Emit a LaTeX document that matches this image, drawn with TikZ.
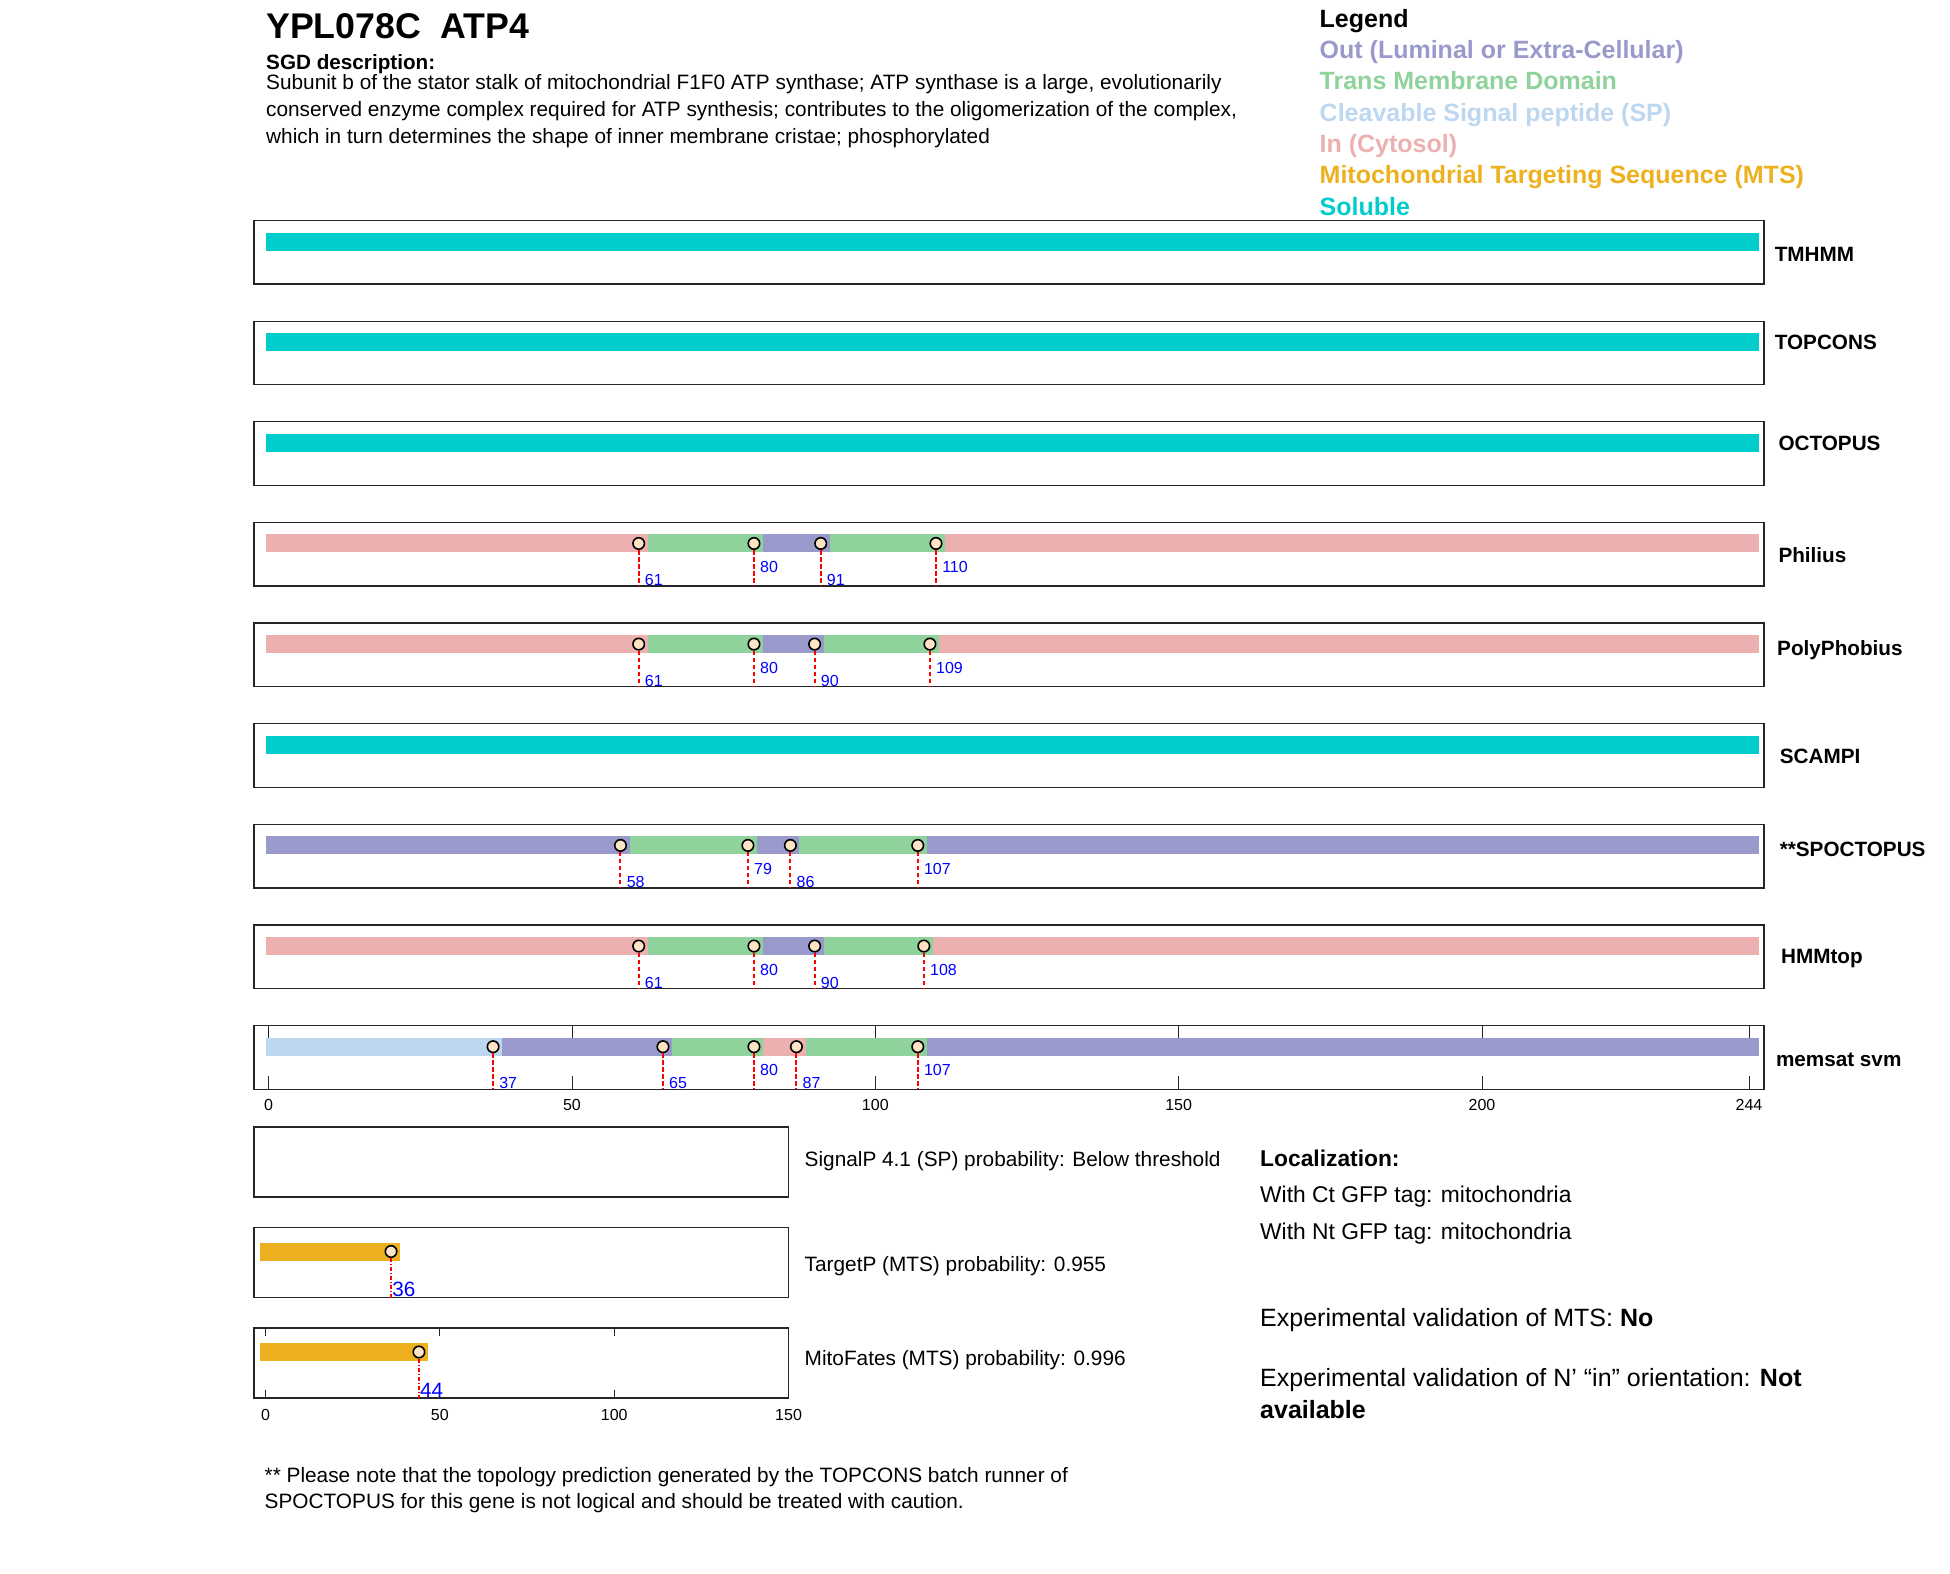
\documentclass[tikz,border=0pt]{standalone}
\usepackage{fontspec}
\setmainfont{Liberation Sans}

\definecolor{solcol}{RGB}{0,204,204}
\definecolor{outcol}{RGB}{153,153,204}
\definecolor{tmcol}{RGB}{144,210,155}
\definecolor{spcol}{RGB}{189,215,240}
\definecolor{incol}{RGB}{236,176,176}
\definecolor{mtscol}{RGB}{237,177,32}
\definecolor{ballcol}{RGB}{253,228,196}
\definecolor{framecol}{RGB}{38,38,38}
\definecolor{numcol}{RGB}{0,0,255}

\begin{document}
\begin{tikzpicture}[x=1pt,y=-1pt,
  panelbox/.style={draw=framecol,line width=1.3pt},
  siteball/.style={circle,draw=black,fill=ballcol,line width=1.6pt,inner sep=0pt,minimum size=11.5pt},
  cut/.style={red,line width=2pt,dash pattern=on 4.5pt off 2.5pt},
  cutdot/.style={red,line width=1.2pt,dash pattern=on 4pt off 2pt on 1pt off 2pt},
  num/.style={text=numcol,anchor=base west,inner sep=0pt,font=\fontsize{16}{16}\selectfont},
  bignum/.style={text=numcol,anchor=base west,inner sep=0pt,font=\fontsize{20.7}{20.7}\selectfont},
  tool/.style={anchor=base west,inner sep=0pt,font=\fontsize{20.7}{20.7}\selectfont\bfseries},
  txt/.style={anchor=base west,inner sep=0pt,font=\fontsize{20.8}{20.8}\selectfont},
  loctxt/.style={anchor=base west,inner sep=0pt,font=\fontsize{22.8}{22.8}\selectfont},
  exptxt/.style={anchor=base west,inner sep=0pt,font=\fontsize{25}{25}\selectfont},
  legendtxt/.style={anchor=base west,inner sep=0pt,font=\fontsize{25}{25}\selectfont\bfseries},
  axisnum/.style={anchor=base,inner sep=0pt,font=\fontsize{16}{16}\selectfont}]
\useasboundingbox (0,0) rectangle (1950,1573);

% header
\node[anchor=base west,inner sep=0pt,font=\fontsize{35.7}{35.7}\selectfont\bfseries] (gene) at (266,38.5) {YPL078C\ \ ATP4};
\node[txt,font=\fontsize{20.7}{20.7}\selectfont\bfseries] (sgd) at (266,69.5) {SGD description:};
\node[txt] (desc1) at (266,89.5) {Subunit b of the stator stalk of mitochondrial F1F0 ATP synthase; ATP synthase is a large, evolutionarily};
\node[txt] (desc2) at (266,116.5) {conserved enzyme complex required for ATP synthesis; contributes to the oligomerization of the complex,};
\node[txt] (desc3) at (266,143.5) {which in turn determines the shape of inner membrane cristae; phosphorylated};

% legend
\node[legendtxt] (leg) at (1319.5,27.7) {Legend};
\node[legendtxt,text=outcol] (legout) at (1319.5,58.7) {Out (Luminal or Extra-Cellular)};
\node[legendtxt,text=tmcol] (legtm) at (1319.5,89.8) {Trans Membrane Domain};
\node[legendtxt,text=spcol] (legsp) at (1319.5,122) {Cleavable Signal peptide (SP)};
\node[legendtxt,text=incol] (legin) at (1319.5,153) {In (Cytosol)};
\node[legendtxt,text=mtscol] (legmts) at (1319.5,184) {Mitochondrial Targeting Sequence (MTS)};
\node[legendtxt,text=solcol] (legsol) at (1319.5,215) {Soluble};

% prediction panels
\foreach \k in {0,...,8}
  \draw[panelbox] (254,220.5+100.65*\k) rectangle (1764,284+100.65*\k);
\foreach \name/\lx/\ly [count=\k from 0] in {TMHMM/1774.6/261.1,TOPCONS/1774.6/349.4,OCTOPUS/1778.3/450.1,Philius/1778.3/562,PolyPhobius/1777/655.4,SCAMPI/1779.6/763.4,**SPOCTOPUS/1779.6/856.8,HMMtop/1780.9/963.7,memsat svm/1775.8/1066.9}
  \node[tool] (tool\k) at (\lx,\ly) {\name};
\foreach \k in {0,1,2,5}
  \fill[solcol] (266,232.5+100.65*\k) rectangle (1759,250.5+100.65*\k);

% Philius
\begin{scope}[shift={(268.6,522.45)},x=6.067pt]
  \foreach \a/\b/\c in {-0.4/62.5/incol,62.5/81.5/tmcol,81.5/92.5/outcol,92.5/111.5/tmcol,111.5/245.6/incol}
    \fill[\c] (\a,12) rectangle (\b,30);
  \foreach \v/\h in {61/63.2,80/50.2,91/63.2,110/50.2}{
    \node[siteball] (phil\v) at (\v,21) {};
    \coordinate (phil\v foot) at (\v,63.5);
    \draw[cut] (phil\v) -- (phil\v foot);
    \node[num] (phil\v lab) at (\v+1,\h) {\v};
  }
\end{scope}

% PolyPhobius
\begin{scope}[shift={(268.6,623.1)},x=6.067pt]
  \foreach \a/\b/\c in {-0.4/62.5/incol,62.5/81.5/tmcol,81.5/91.5/outcol,91.5/110.5/tmcol,110.5/245.6/incol}
    \fill[\c] (\a,12) rectangle (\b,30);
  \foreach \v/\h in {61/63.2,80/50.2,90/63.2,109/50.2}{
    \node[siteball] (poly\v) at (\v,21) {};
    \coordinate (poly\v foot) at (\v,63.5);
    \draw[cut] (poly\v) -- (poly\v foot);
    \node[num] (poly\v lab) at (\v+1,\h) {\v};
  }
\end{scope}

% SPOCTOPUS
\begin{scope}[shift={(268.6,824.4)},x=6.067pt]
  \foreach \a/\b/\c in {-0.4/59.5/outcol,59.5/80.5/tmcol,80.5/87.5/outcol,87.5/108.5/tmcol,108.5/245.6/outcol}
    \fill[\c] (\a,12) rectangle (\b,30);
  \foreach \v/\h in {58/63.2,79/50.2,86/63.2,107/50.2}{
    \node[siteball] (spoc\v) at (\v,21) {};
    \coordinate (spoc\v foot) at (\v,63.5);
    \draw[cut] (spoc\v) -- (spoc\v foot);
    \node[num] (spoc\v lab) at (\v+1,\h) {\v};
  }
\end{scope}

% HMMtop
\begin{scope}[shift={(268.6,925.05)},x=6.067pt]
  \foreach \a/\b/\c in {-0.4/62.5/incol,62.5/81.5/tmcol,81.5/91.5/outcol,91.5/109.5/tmcol,109.5/245.6/incol}
    \fill[\c] (\a,12) rectangle (\b,30);
  \foreach \v/\h in {61/63.2,80/50.2,90/63.2,108/50.2}{
    \node[siteball] (hmm\v) at (\v,21) {};
    \coordinate (hmm\v foot) at (\v,63.5);
    \draw[cut] (hmm\v) -- (hmm\v foot);
    \node[num] (hmm\v lab) at (\v+1,\h) {\v};
  }
\end{scope}

% memsat svm, with the residue axis
\begin{scope}[shift={(268.6,1025.7)},x=6.067pt]
  \foreach \t in {0,50,100,150,200,244}{
    \draw[framecol,line width=0.9pt] (\t,0) -- (\t,13) (\t,50.5) -- (\t,63.5);
    \node[axisnum] (ax\t) at (\t,84.3) {\t};
  }
  \foreach \a/\b/\c in {-0.4/38.5/spcol,38.5/66.5/outcol,66.5/81.5/tmcol,81.5/88.5/incol,88.5/108.5/tmcol,108.5/245.6/outcol}
    \fill[\c] (\a,12) rectangle (\b,30);
  \foreach \v/\h in {37/63.2,65/63.2,80/50.2,87/63.2,107/50.2}{
    \node[siteball] (mem\v) at (\v,21) {};
    \coordinate (mem\v foot) at (\v,63.5);
    \draw[cut] (mem\v) -- (mem\v foot);
    \node[num] (mem\v lab) at (\v+1,\h) {\v};
  }
\end{scope}

% SP and MTS panels
\foreach \k in {0,1,2}
  \draw[panelbox] (254,1127+100.5*\k) rectangle (788.5,1197+100.5*\k);

\begin{scope}[shift={(265.5,1227.5)},x=3.487pt]
  \fill[mtscol] (-1.5,15) rectangle (38.5,33);
  \node[siteball] (tp36) at (36,24) {};
  \coordinate (tp36foot) at (36,70);
  \draw[cutdot] (tp36) -- (tp36foot);
  \node[bignum] (tp36lab) at (36.3,69) {36};
\end{scope}

\begin{scope}[shift={(265.5,1328)},x=3.487pt]
  \foreach \t in {0,50,100}
    \draw[framecol,line width=0.9pt] (\t,0) -- (\t,8) (\t,62) -- (\t,70);
  \foreach \t in {0,50,100,150}
    \node[axisnum] (mf\t) at (\t,92) {\t};
  \fill[mtscol] (-1.5,15) rectangle (46.5,33);
  \node[siteball] (mf44) at (44,24) {};
  \coordinate (mf44foot) at (44,70);
  \draw[cutdot] (mf44) -- (mf44foot);
  \node[bignum] (mf44lab) at (44.3,69) {44};
\end{scope}

\node[txt] (signalp) at (804.5,1166.4) {SignalP 4.1 (SP) probability: Below threshold};
\node[txt] (targetp) at (804.5,1271) {TargetP (MTS) probability: 0.955};
\node[txt] (mitofates) at (804.5,1365.4) {MitoFates (MTS) probability: 0.996};

% localization block
\node[loctxt,font=\fontsize{22.8}{22.8}\selectfont\bfseries] (loc) at (1260,1166) {Localization:};
\node[loctxt] (locct) at (1260,1202) {With Ct GFP tag: mitochondria};
\node[loctxt] (locnt) at (1260,1239) {With Nt GFP tag: mitochondria};
\node[exptxt] (expmts) at (1260,1326) {Experimental validation of MTS: \textbf{No}};
\node[exptxt] (expin) at (1260,1386) {Experimental validation of N’ “in” orientation: \textbf{Not}};
\node[exptxt,font=\fontsize{25}{25}\selectfont\bfseries] (expin2) at (1260,1418) {available};

% footnote
\node[txt] (note1) at (264.5,1482.4) {** Please note that the topology prediction generated by the TOPCONS batch runner of};
\node[txt] (note2) at (264.5,1508.4) {SPOCTOPUS for this gene is not logical and should be treated with caution.};
\end{tikzpicture}
\end{document}
